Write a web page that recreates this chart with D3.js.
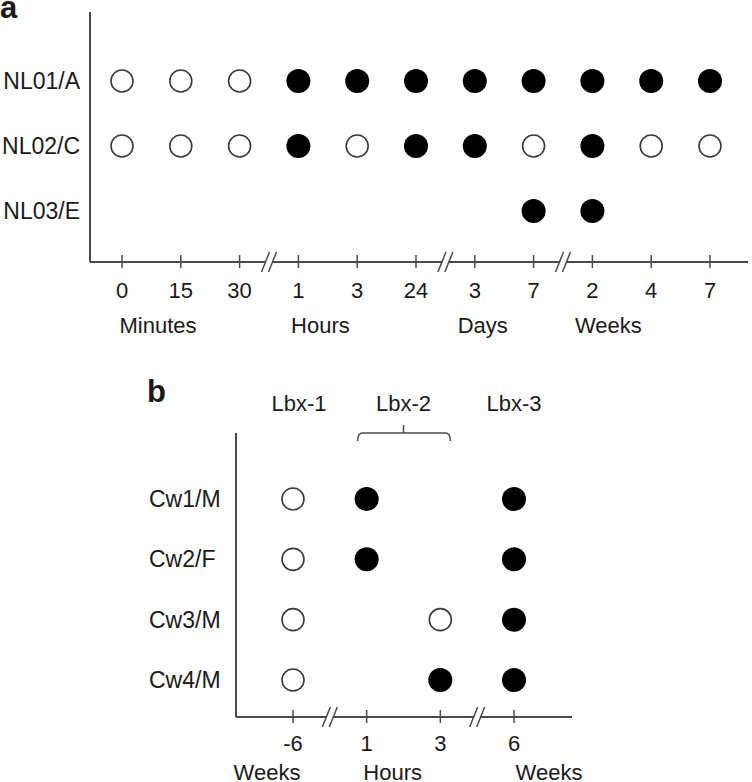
<!DOCTYPE html>
<html>
<head>
<meta charset="utf-8">
<script src="https://cdn.jsdelivr.net/npm/d3@7/dist/d3.min.js"></script>
<style>
	body { margin: 0; background: #fff; }
	svg { display: block; font-family: "Liberation Sans", Arial, sans-serif; }
	text { fill: #1a1a1a; }
</style>
</head>
<body>
<div id="chart"></div>
<script>
"use strict";

//  Panel a data
const aTimes = ['m0', 'm15', 'm30', 'h1', 'h3', 'h24', 'd3', 'd7', 'w2', 'w4', 'w7'];
const aTickLabels = ['0', '15', '30', '1', '3', '24', '3', '7', '2', '4', '7'];
const aBreaksAfter = ['m30', 'h24', 'd7'];
const aUnits = [['Minutes', 'm0', 36], ['Hours', 'h1', 22], ['Days', 'd3', 8], ['Weeks', 'w2', 16]];
const aRows = ['NL01/A', 'NL02/C', 'NL03/E'];
// 1 = positive (filled), 0 = negative (open), null = no sample
const aValues = [
	[0, 0, 0, 1, 1, 1, 1, 1, 1, 1, 1],
	[0, 0, 0, 1, 0, 1, 1, 0, 1, 0, 0],
	[null, null, null, null, null, null, null, 1, 1, null, null]
];

//  Panel b data
const bTimes = ['wk-6', 'h1', 'h3', 'wk6'];
const bTickLabels = ['-6', '1', '3', '6'];
const bBreaksAfter = ['wk-6', 'h3'];
const bUnits = [['Weeks', 'wk-6', -26], ['Hours', 'h1', 26], ['Weeks', 'wk6', 35]];
const bRows = ['Cw1/M', 'Cw2/F', 'Cw3/M', 'Cw4/M'];
const bValues = [
	[0, 1, null, 1],
	[0, 1, null, 1],
	[0, null, 0, 1],
	[0, null, 1, 1]
];

const width = 752, height = 782;
const fontSize = 22;

const svg = d3.select('#chart').append('svg')
	.attr('width', width)
	.attr('height', height);

function drawPanel(opts)
{
	const g = svg.append('g');
	const x = d3.scalePoint().domain(opts.times).range(opts.xRange);
	const y = d3.scalePoint().domain(opts.rows).range(opts.yRange);

	// axes
	g.append('line')
		.attr('x1', opts.axisX).attr('x2', opts.axisX)
		.attr('y1', opts.axisTop).attr('y2', opts.axisY)
		.attr('stroke', '#4a4a4a').attr('stroke-width', 2);
	g.append('line')
		.attr('x1', opts.axisX).attr('x2', opts.axisRight)
		.attr('y1', opts.axisY).attr('y2', opts.axisY)
		.attr('stroke', '#4a4a4a').attr('stroke-width', 2);

	// ticks
	g.selectAll('.tick')
		.data(opts.times)
		.join('line')
		.attr('x1', t => x(t)).attr('x2', t => x(t))
		.attr('y1', opts.axisY - 7).attr('y2', opts.axisY + 6)
		.attr('stroke', '#4a4a4a').attr('stroke-width', 1.5);

	g.selectAll('.ticklabel')
		.data(opts.times)
		.join('text')
		.attr('x', t => x(t))
		.attr('y', opts.tickLabelY)
		.attr('dy', '0.35em')
		.attr('text-anchor', 'middle')
		.style('font-size', fontSize + 'px')
		.text((t, i) => opts.tickLabels[i]);

	// axis breaks
	const breaks = g.selectAll('.brk')
		.data(opts.breaksAfter)
		.join('g')
		.attr('transform', t => {
			const i = opts.times.indexOf(t);
			return `translate(${(x(t) + x(opts.times[i + 1])) / 2}, ${opts.axisY})`;
		});
	breaks.append('rect')
		.attr('x', -3).attr('y', -3).attr('width', 6).attr('height', 6)
		.attr('fill', '#fff');
	[-3.5, 3.5].forEach(dx =>
		breaks.append('line')
			.attr('x1', dx - 4).attr('y1', 10)
			.attr('x2', dx + 4).attr('y2', -10)
			.attr('stroke', '#4a4a4a').attr('stroke-width', 1.5));

	// unit labels
	g.selectAll('.unit')
		.data(opts.units)
		.join('text')
		.attr('x', u => x(u[1]) + u[2])
		.attr('y', opts.unitY)
		.attr('dy', '0.35em')
		.attr('text-anchor', 'middle')
		.style('font-size', fontSize + 'px')
		.text(u => u[0]);

	// row labels
	g.selectAll('.row')
		.data(opts.rows)
		.join('text')
		.attr('x', opts.rowLabelX)
		.attr('y', r => y(r))
		.attr('dy', '0.35em')
		.attr('text-anchor', opts.rowAnchor)
		.style('font-size', (fontSize + 1) + 'px')
		.text(r => r);

	// dots
	const dots = [];
	opts.values.forEach((row, ri) => row.forEach((v, ti) => {
		if (v !== null)
			dots.push({ row: opts.rows[ri], time: opts.times[ti], positive: v === 1 });
	}));
	g.selectAll('.dot')
		.data(dots)
		.join('circle')
		.attr('cx', d => x(d.time))
		.attr('cy', d => y(d.row))
		.attr('r', d => d.positive ? 12 : 11)
		.attr('fill', d => d.positive ? '#000' : '#fff')
		.attr('stroke', d => d.positive ? 'none' : '#3a3a3a')
		.attr('stroke-width', 1.6);

	// panel letter
	svg.append('text')
		.attr('x', opts.letterX).attr('y', opts.letterY)
		.style('font-size', '31px').style('font-weight', 'bold')
		.text(opts.letter);

	return { g, x, y };
}

drawPanel({
	times: aTimes, tickLabels: aTickLabels, breaksAfter: aBreaksAfter, units: aUnits,
	rows: aRows, values: aValues,
	xRange: [122, 710], yRange: [81, 211],
	axisX: 90, axisTop: 12, axisY: 262, axisRight: 748,
	tickLabelY: 290, unitY: 325,
	rowLabelX: 80, rowAnchor: 'end',
	letter: 'a', letterX: 0, letterY: 18
});

const b = drawPanel({
	times: bTimes, tickLabels: bTickLabels, breaksAfter: bBreaksAfter, units: bUnits,
	rows: bRows, values: bValues,
	xRange: [293, 514], yRange: [499, 680],
	axisX: 236, axisTop: 433, axisY: 717, axisRight: 572,
	tickLabelY: 743, unitY: 772,
	rowLabelX: 149, rowAnchor: 'start',
	letter: 'b', letterX: 147, letterY: 402
});

//  Lbx treatment labels and bracket over the 1–3 hour samples
const lbx = [['Lbx-1', b.x('wk-6') + 6], ['Lbx-2', (b.x('h1') + b.x('h3')) / 2], ['Lbx-3', b.x('wk6')]];
b.g.selectAll('.lbx')
	.data(lbx)
	.join('text')
	.attr('x', d => d[1])
	.attr('y', 403)
	.attr('dy', '0.35em')
	.attr('text-anchor', 'middle')
	.style('font-size', fontSize + 'px')
	.text(d => d[0]);

const bl = b.x('h1') - 9, br = b.x('h3') + 10, bm = (b.x('h1') + b.x('h3')) / 2;
b.g.append('path')
	.attr('d', `M ${bl} 441 Q ${bl} 433 ${bl + 5} 433 L ${br - 5} 433 Q ${br} 433 ${br} 441 M ${bm} 433 L ${bm} 425`)
	.attr('fill', 'none')
	.attr('stroke', '#4a4a4a')
	.attr('stroke-width', 1.5);
</script>
</body>
</html>
